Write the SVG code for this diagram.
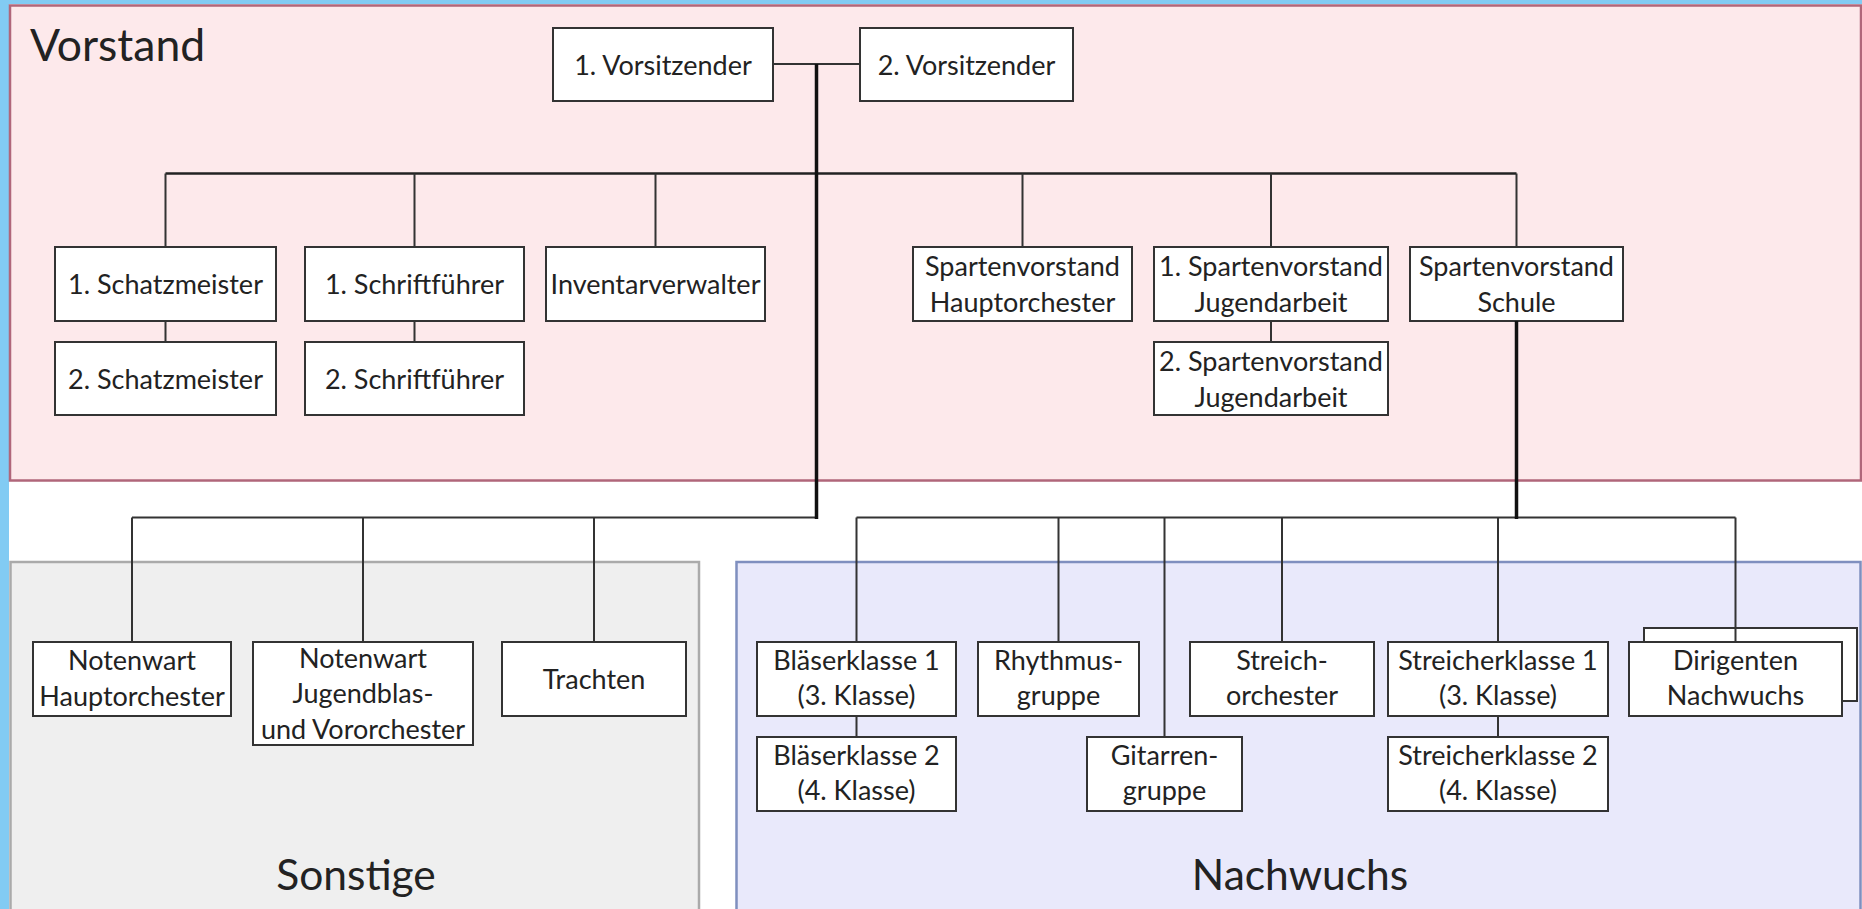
<svg xmlns="http://www.w3.org/2000/svg" width="1862" height="909" viewBox="0 0 1862 909">
<style>
.node rect{fill:#fff;stroke:#333;stroke-width:2}
.node text,.lbl{font-family:Lato,"Open Sans",sans-serif;fill:#222;text-anchor:middle}
.node text{font-size:27px}
.lbl{font-size:44px}
.c{stroke:#333;stroke-width:2;fill:none}
.bus{stroke:#222;stroke-width:2.5;fill:none}
.thick{stroke:#111;stroke-width:3.5;fill:none}
</style>
<rect x="0" y="0" width="1862" height="909" fill="#82cbf3"/>
<rect x="9" y="4" width="1853" height="905" fill="#fff"/>
<g id="panel-vorstand">
<rect x="10" y="5.5" width="1851" height="475" fill="#fde9eb" stroke="#b0667a" stroke-width="2.5"/>
<text class="lbl" x="30" y="61" style="text-anchor:start;font-size:44.5px">Vorstand</text>
</g>
<g id="panel-sonstige">
<rect x="10.5" y="562" width="688.5" height="350" fill="#efefef" stroke="#aaa" stroke-width="2.5"/>
<text class="lbl" x="356" y="890" style="font-size:42.5px">Sonstige</text>
</g>
<g id="panel-nachwuchs">
<rect x="736.5" y="562" width="1124" height="350" fill="#e9e9fb" stroke="#7f8fbf" stroke-width="2.5"/>
<text class="lbl" x="1300" y="890" style="font-size:42.5px">Nachwuchs</text>
</g>
<g id="v1" class="node"><rect x="553" y="28" width="220" height="73"/><text x="663" y="75">1. Vorsitzender</text></g>
<g id="v2" class="node"><rect x="860" y="28" width="213" height="73"/><text x="966.5" y="75">2. Vorsitzender</text></g>
<g id="schatz1" class="node"><rect x="55" y="247" width="221" height="74"/><text x="165.5" y="294">1. Schatzmeister</text></g>
<g id="schatz2" class="node"><rect x="55" y="342" width="221" height="73"/><text x="165.5" y="389">2. Schatzmeister</text></g>
<g id="schrift1" class="node"><rect x="305" y="247" width="219" height="74"/><text x="414.5" y="294">1. Schriftführer</text></g>
<g id="schrift2" class="node"><rect x="305" y="342" width="219" height="73"/><text x="414.5" y="389">2. Schriftführer</text></g>
<g id="inventar" class="node"><rect x="546" y="247" width="219" height="74"/><text x="655.5" y="294">Inventarverwalter</text></g>
<g id="spH" class="node"><rect x="913" y="247" width="219" height="74"/><text x="1022.5" y="276">Spartenvorstand</text><text x="1022.5" y="312">Hauptorchester</text></g>
<g id="spJ1" class="node"><rect x="1154" y="247" width="234" height="74"/><text x="1271" y="276">1. Spartenvorstand</text><text x="1271" y="312">Jugendarbeit</text></g>
<g id="spJ2" class="node"><rect x="1154" y="342" width="234" height="73"/><text x="1271" y="371">2. Spartenvorstand</text><text x="1271" y="407">Jugendarbeit</text></g>
<g id="spS" class="node"><rect x="1410" y="247" width="213" height="74"/><text x="1516.5" y="276">Spartenvorstand</text><text x="1516.5" y="312">Schule</text></g>
<g id="notenH" class="node"><rect x="33" y="642" width="198" height="74"/><text x="132" y="670">Notenwart</text><text x="132" y="706">Hauptorchester</text></g>
<g id="notenJ" class="node"><rect x="253" y="642" width="220" height="103"/><text x="363" y="668">Notenwart</text><text x="363" y="703">Jugendblas-</text><text x="363" y="739">und Vororchester</text></g>
<g id="trachten" class="node"><rect x="502" y="642" width="184" height="74"/><text x="594" y="689">Trachten</text></g>
<g id="blaes1" class="node"><rect x="757" y="642" width="199" height="74"/><text x="856.5" y="670">Bläserklasse 1</text><text x="856.5" y="705">(3. Klasse)</text></g>
<g id="blaes2" class="node"><rect x="757" y="737" width="199" height="74"/><text x="856.5" y="765">Bläserklasse 2</text><text x="856.5" y="800">(4. Klasse)</text></g>
<g id="rhythmus" class="node"><rect x="978" y="642" width="161" height="74"/><text x="1058.5" y="670">Rhythmus-</text><text x="1058.5" y="705">gruppe</text></g>
<g id="gitarren" class="node"><rect x="1087" y="737" width="155" height="74"/><text x="1164.5" y="765">Gitarren-</text><text x="1164.5" y="800">gruppe</text></g>
<g id="streichorch" class="node"><rect x="1190" y="642" width="184" height="74"/><text x="1282" y="670">Streich-</text><text x="1282" y="705">orchester</text></g>
<g id="streicher1" class="node"><rect x="1388" y="642" width="220" height="74"/><text x="1498" y="670">Streicherklasse 1</text><text x="1498" y="705">(3. Klasse)</text></g>
<g id="streicher2" class="node"><rect x="1388" y="737" width="220" height="74"/><text x="1498" y="765">Streicherklasse 2</text><text x="1498" y="800">(4. Klasse)</text></g>
<g id="dirigenten" class="node"><rect x="1644" y="628" width="213" height="73"/><rect x="1629" y="642" width="213" height="74"/><text x="1735.5" y="670">Dirigenten</text><text x="1735.5" y="705">Nachwuchs</text></g>
<g id="connectors">
<path class="c" d="M773 64H860"/>
<path class="bus" d="M165.5 173.5H1516.5"/>
<path class="c" d="M165.5 173.5V247M414.5 173.5V247M655.5 173.5V247M1022.5 173.5V247M1271 173.5V247M1516.5 173.5V247"/>
<path class="c" d="M165.5 321V342M414.5 321V342M1271 321V342"/>
<path class="c" d="M132 517.5H816M132 517.5V642M363 517.5V642M594 517.5V642"/>
<path class="c" d="M856.5 517.5H1735.5M856.5 517.5V642M1058.5 517.5V642M1164.5 517.5V737M1282 517.5V642M1498 517.5V642M1735.5 517.5V642"/>
<path class="c" d="M856.5 716V737M1498 716V737"/>
<path class="thick" d="M816.5 64V519"/>
<path class="thick" d="M1516.5 321V519"/>
</g>
</svg>
